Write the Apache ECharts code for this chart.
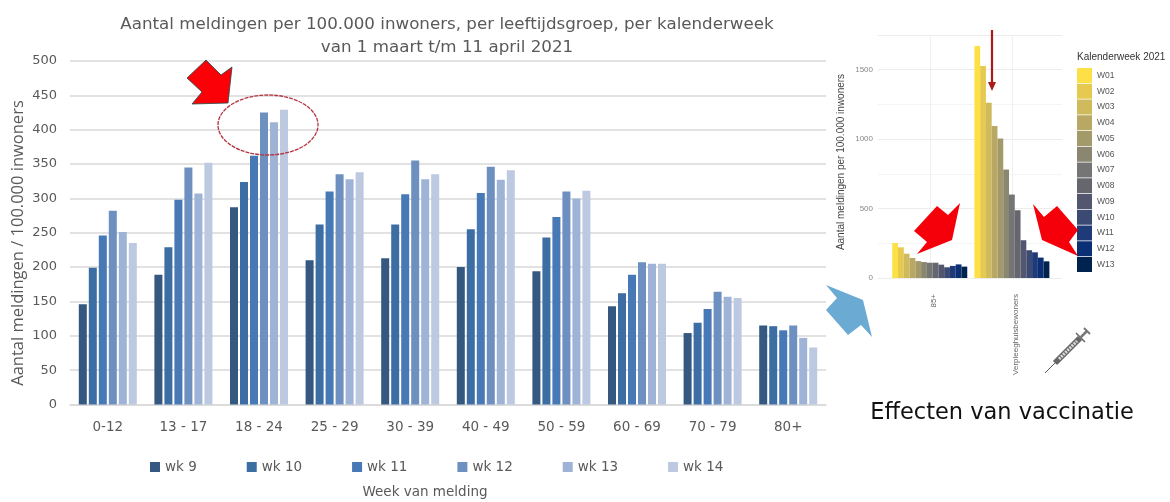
<!DOCTYPE html>
<html>
<head>
<meta charset="utf-8">
<title>Aantal meldingen per 100.000 inwoners</title>
<script src="https://cdn.jsdelivr.net/npm/echarts@6/dist/echarts.min.js"></script>
<style>
    html, body { margin: 0; padding: 0; background: #fff; }
    #chart { width: 1170px; height: 502px; }
</style>
</head>
<body>
<div id="chart"></div>
<script>
// Main chart data
var ageGroups = ['0-12', '13 - 17', '18 - 24', '25 - 29', '30 - 39', '40 - 49', '50 - 59', '60 - 69', '70 - 79', '80+'];
var wk9 = [146, 189, 287, 210, 213, 200, 194, 143, 104, 115];
var wk10 = [199, 229, 324, 262, 262, 255, 243, 162, 119, 114];
var wk11 = [246, 298, 362, 310, 306, 308, 273, 189, 139, 108];
var wk12 = [282, 345, 425, 335, 355, 346, 310, 207, 164, 115];
var wk13 = [251, 307, 411, 328, 328, 327, 300, 205, 157, 97];
var wk14 = [235, 352, 429, 338, 335, 341, 311, 205, 155, 83];
var mainNames = ['wk 9', 'wk 10', 'wk 11', 'wk 12', 'wk 13', 'wk 14'];
var mainValues = [wk9, wk10, wk11, wk12, wk13, wk14];
var mainColors = ['#34587f', '#3d6ea3', '#4679b5', '#6e90c1', '#9eb3d6', '#bcc9e1'];

// Inset chart data
var insetLabels = { 1: '85+', 2: 'Verpleeghuisbewoners' };
var insetWeeks = ['W01', 'W02', 'W03', 'W04', 'W05', 'W06', 'W07', 'W08', 'W09', 'W10', 'W11', 'W12', 'W13'];
var elderly = [252, 221, 175, 144, 122, 115, 110, 110, 96, 77, 87, 98, 82];
var careHome = [1670, 1526, 1262, 1094, 1005, 781, 601, 488, 272, 200, 185, 147, 120];
var insetColors = ['#fde045', '#e6c94f', '#cfba5c', '#b9a863', '#a39a6a', '#8a866f', '#757575', '#66666e', '#52566f', '#3a4a72', '#1f3a78', '#0a2f74', '#00224e'];

var fontMain = '"DejaVu Sans", sans-serif';
var fontInset = '"Liberation Sans", sans-serif';
var textGrey = '#595959';

var series = [];
mainNames.forEach(function(name, i) {
    series.push({
        name: name,
        type: 'bar',
        xAxisIndex: 0,
        yAxisIndex: 0,
        barWidth: 8,
        barGap: '25%',
        itemStyle: { color: mainColors[i] },
        data: mainValues[i]
    });
});
insetWeeks.forEach(function(name, i) {
    series.push({
        name: name,
        type: 'bar',
        xAxisIndex: 1,
        yAxisIndex: 1,
        barWidth: 5.77,
        barGap: 0,
        itemStyle: { color: insetColors[i] },
        data: [[1, elderly[i]], [2, careHome[i]]]
    });
});

// Annotations drawn on top of the charts
var redArrow = { fill: '#fb0007', stroke: '#1d4a4a', lineWidth: 0.8 };
var annotations = [
    { type: 'text', z: 50, x: 18, y: 243, rotation: Math.PI / 2, style: { text: 'Aantal meldingen / 100.000 inwoners', fill: textGrey, font: '16.5px "Open Sans", sans-serif', align: 'center', verticalAlign: 'middle' } },
    { type: 'text', z: 50, x: 841, y: 162, rotation: Math.PI / 2, style: { text: 'Aantal meldingen per 100.000 inwoners', fill: '#444', font: '10px ' + fontInset, align: 'center', verticalAlign: 'middle' } },
    { type: 'polygon', z: 50, shape: { points: [[206, 60], [221, 75], [232, 67], [228, 103], [192, 104], [202, 92], [187, 78]] }, style: redArrow },
    { type: 'ellipse', z: 50, shape: { cx: 268, cy: 125, rx: 50, ry: 30 }, style: { fill: 'none', stroke: '#b5333f', lineWidth: 1.3, lineDash: [4, 1] } },
    { type: 'polygon', z: 50, shape: { points: [[937, 206], [948, 215], [960, 203], [952, 240], [917, 254], [927, 242], [914, 231]] }, style: { fill: '#f5000a' } },
    { type: 'polygon', z: 50, shape: { points: [[1033, 204], [1044, 217], [1057, 206], [1078, 230], [1069, 242], [1078, 256], [1042, 240]] }, style: { fill: '#f5000a' } },
    { type: 'line', z: 50, shape: { x1: 992, y1: 30, x2: 992, y2: 84 }, style: { stroke: '#aa1a1a', lineWidth: 2.2 } },
    { type: 'polygon', z: 50, shape: { points: [[988, 82], [996, 82], [992, 91]] }, style: { fill: '#aa1a1a' } },
    { type: 'polygon', z: 50, shape: { points: [[826, 285], [863, 300], [872, 337], [861, 325], [848, 335], [826, 310], [837, 298]] }, style: { fill: '#6babd3' } },
    // Syringe
    { type: 'line', z: 50, shape: { x1: 1045, y1: 373, x2: 1057, y2: 361 }, style: { stroke: '#555', lineWidth: 1 } },
    { type: 'line', z: 50, shape: { x1: 1055, y1: 363, x2: 1080, y2: 338 }, style: { stroke: '#666', lineWidth: 6 } },
    { type: 'line', z: 50, shape: { x1: 1059, y1: 359, x2: 1077, y2: 341 }, style: { stroke: '#ddd', lineWidth: 3, lineDash: [2, 1] } },
    { type: 'line', z: 50, shape: { x1: 1076, y1: 333, x2: 1085, y2: 342 }, style: { stroke: '#666', lineWidth: 1.5 } },
    { type: 'line', z: 50, shape: { x1: 1080, y1: 338, x2: 1087, y2: 331 }, style: { stroke: '#777', lineWidth: 2.5 } },
    { type: 'line', z: 50, shape: { x1: 1084, y1: 328, x2: 1090, y2: 334 }, style: { stroke: '#777', lineWidth: 2 } }
];

var chart = echarts.init(document.getElementById('chart'));

chart.setOption({
    backgroundColor: '#fff',
    animation: false,
    textStyle: { fontFamily: fontMain },
    title: [{
        text: 'Aantal meldingen per 100.000 inwoners, per leeftijdsgroep, per kalenderweek\nvan 1 maart t/m 11 april 2021',
        left: 447,
        top: 13,
        padding: 0,
        textAlign: 'center',
        textStyle: { fontFamily: fontMain, fontSize: 16.7, fontWeight: 'normal', color: textGrey, lineHeight: 23 }
    }, {
        text: 'Effecten van vaccinatie',
        left: 1002,
        top: 402,
        padding: 0,
        textAlign: 'center',
        textStyle: { fontFamily: fontMain, fontSize: 22.5, fontWeight: 'normal', color: '#111' }
    }, {
        text: 'Week van melding',
        left: 425,
        top: 485,
        padding: 0,
        textAlign: 'center',
        textStyle: { fontFamily: fontMain, fontSize: 13.5, fontWeight: 'normal', color: textGrey }
    }, {
        text: 'Kalenderweek 2021',
        left: 1077,
        top: 52,
        padding: 0,
        textStyle: { fontFamily: fontInset, fontSize: 10, fontWeight: 'normal', color: '#333' }
    }],
    legend: [{
        data: mainNames,
        left: 150,
        top: 460,
        padding: 0,
        icon: 'rect',
        itemWidth: 10,
        itemHeight: 10,
        itemGap: 50,
        textStyle: { fontFamily: fontMain, fontSize: 13.5, color: textGrey }
    }, {
        data: insetWeeks,
        orient: 'vertical',
        left: 1077,
        top: 68,
        padding: 0,
        icon: 'rect',
        itemWidth: 15,
        itemHeight: 15,
        itemGap: 0.75,
        textStyle: { fontFamily: fontInset, fontSize: 8.5, color: '#555' }
    }],
    grid: [
        { left: 70, right: 344, top: 61, height: 343.5 },
        { left: 878, width: 184, top: 35, height: 243 }
    ],
    xAxis: [{
        type: 'category',
        gridIndex: 0,
        data: ageGroups,
        axisLine: { lineStyle: { color: '#d9d9d9', width: 1.5 } },
        axisTick: { show: false },
        axisLabel: { color: textGrey, fontSize: 13.5, margin: 16 }
    }, {
        type: 'value',
        gridIndex: 1,
        min: 0.37,
        max: 2.61,
        axisLine: { show: false },
        axisTick: { show: false, customValues: [1, 2] },
        splitLine: { show: true, lineStyle: { color: '#f0f0f0' } },
        axisLabel: {
            customValues: [1, 2],
            rotate: 90,
            verticalAlign: 'top',
            fontSize: 8,
            fontFamily: fontInset,
            color: '#666',
            margin: 16,
            formatter: function(value) {
                return insetLabels[value] || '';
            }
        }
    }],
    yAxis: [{
        type: 'value',
        gridIndex: 0,
        min: 0,
        max: 500,
        interval: 50,
        axisLine: { show: false },
        axisTick: { show: false },
        axisLabel: { color: textGrey, fontSize: 13, margin: 13 },
        splitLine: { lineStyle: { color: '#d9d9d9', width: 1.5 } }
    }, {
        type: 'value',
        gridIndex: 1,
        min: 0,
        max: 1750,
        interval: 500,
        axisLine: { show: false },
        axisTick: { show: false },
        minorTick: { show: false, splitNumber: 2 },
        minorSplitLine: { show: true, lineStyle: { color: '#f4f4f4' } },
        axisLabel: {
            color: '#888',
            fontSize: 8,
            fontFamily: fontInset,
            margin: 5,
            showMaxLabel: false,
            formatter: function(value) {
                return String(value);
            }
        },
        splitLine: { lineStyle: { color: '#ececec' } }
    }],
    graphic: annotations,
    series: series
});
</script>
</body>
</html>
